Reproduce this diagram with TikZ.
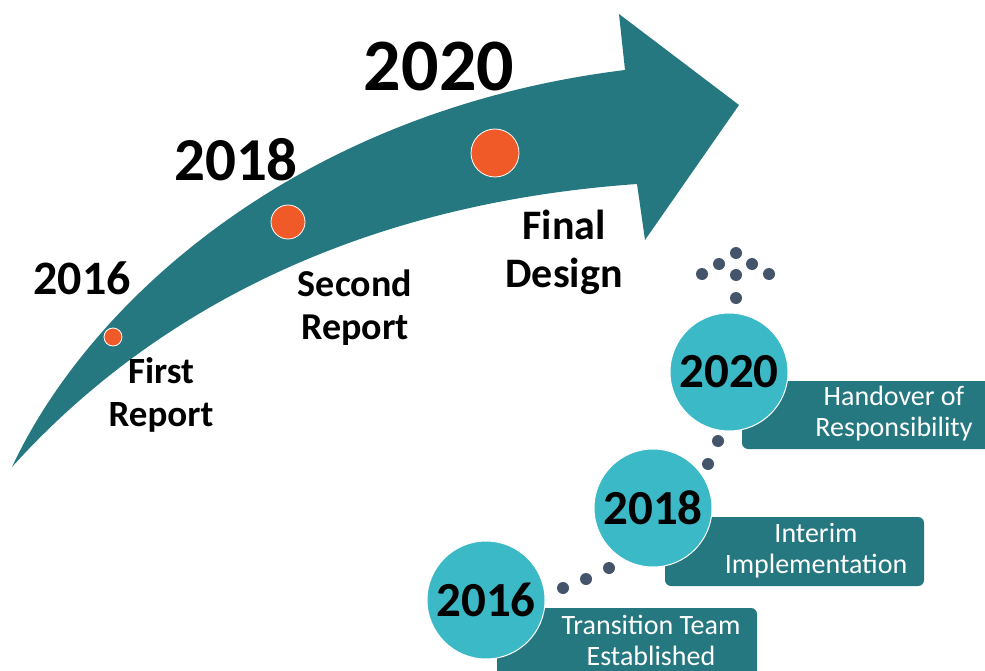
\documentclass[tikz,border=0pt]{standalone}
\usepackage{fontspec}
\setmainfont{Carlito}
\usepackage{tikz}
\definecolor{shaftteal}{RGB}{38,120,128}
\definecolor{ballteal}{RGB}{59,185,198}
\definecolor{dotorange}{RGB}{240,90,40}
\definecolor{pebblegrey}{RGB}{68,84,106}
\tikzset{
	orangedot/.style={circle,fill=dotorange,draw=white,line width=0.8,inner sep=0},
	ball/.style={circle,fill=ballteal,draw=white,line width=1,minimum size=118,inner sep=0,
		font=\bfseries\fontsize{49}{49}\selectfont},
	boxtext/.style={text=white,align=center,inner sep=0,font=\fontsize{28}{31}\selectfont},
	pebble/.style={circle,fill=pebblegrey,minimum size=12,inner sep=0},
}

\begin{document}
\begin{tikzpicture}[x=1pt,y=-1pt]
		\clip (0,0) rectangle (985,671);

		% the rising arrow
		\fill[shaftteal] (12,467) .. controls (90,300) and (300,110) .. (625,70) -- (619,14) -- (739,105)
			-- (645,240) -- (637,184) .. controls (340,205) and (140,325) .. (12,467) -- cycle;

		\node[orangedot,minimum size=18] (m16) at (113,337) {};
		\node[orangedot,minimum size=34] (m18) at (288,222) {};
		\node[orangedot,minimum size=48] (m20) at (495,153) {};

		\node[inner sep=0,font=\bfseries\fontsize{48}{48}\selectfont] (y16) at (82,278) {2016};
		\node[inner sep=0,font=\bfseries\fontsize{61}{61}\selectfont] (y18) at (236,160) {2018};
		\node[inner sep=0,font=\bfseries\fontsize{74}{74}\selectfont] (y20) at (439,66) {2020};

		\node[align=center,inner sep=0,font=\bfseries\fontsize{37}{43}\selectfont] (l16) at (161,395) {First\\Report};
		\node[align=center,inner sep=0,font=\bfseries\fontsize{38}{43}\selectfont] (l18) at (355,308) {Second\\Report};
		\node[align=center,inner sep=0,font=\bfseries\fontsize{42}{48}\selectfont] (l20) at (564,252) {Final\\Design};

		% boxes behind the balls
		\fill[shaftteal,rounded corners=6] (742,381) rectangle (1000,449);
		\fill[shaftteal,rounded corners=6] (665,517) rectangle (924,586);
		\fill[shaftteal,rounded corners=6] (497,608) rectangle (757,690);

		\node[ball] (b16) at (486,600) {2016};
		\node[ball] (b18) at (653,508) {2018};
		\node[ball] (b20) at (729,372) {2020};

		\node[boxtext] (t16) at (651,640) {Transition Team\\Established};
		\node[boxtext] (t18) at (816,551) {Interim\\Implementation};
		\node[boxtext] (t20) at (894,414) {Handover of\\Responsibility};

		% dotted steps
		\foreach \x/\y [count=\i] in {563/588,586/579,609/568,708/464,718/441,
			736/298,736/275,719/264,752/264,702/274,769/274,736/253}
			\node[pebble] (p\i) at (\x,\y) {};
	\end{tikzpicture}
\end{document}
